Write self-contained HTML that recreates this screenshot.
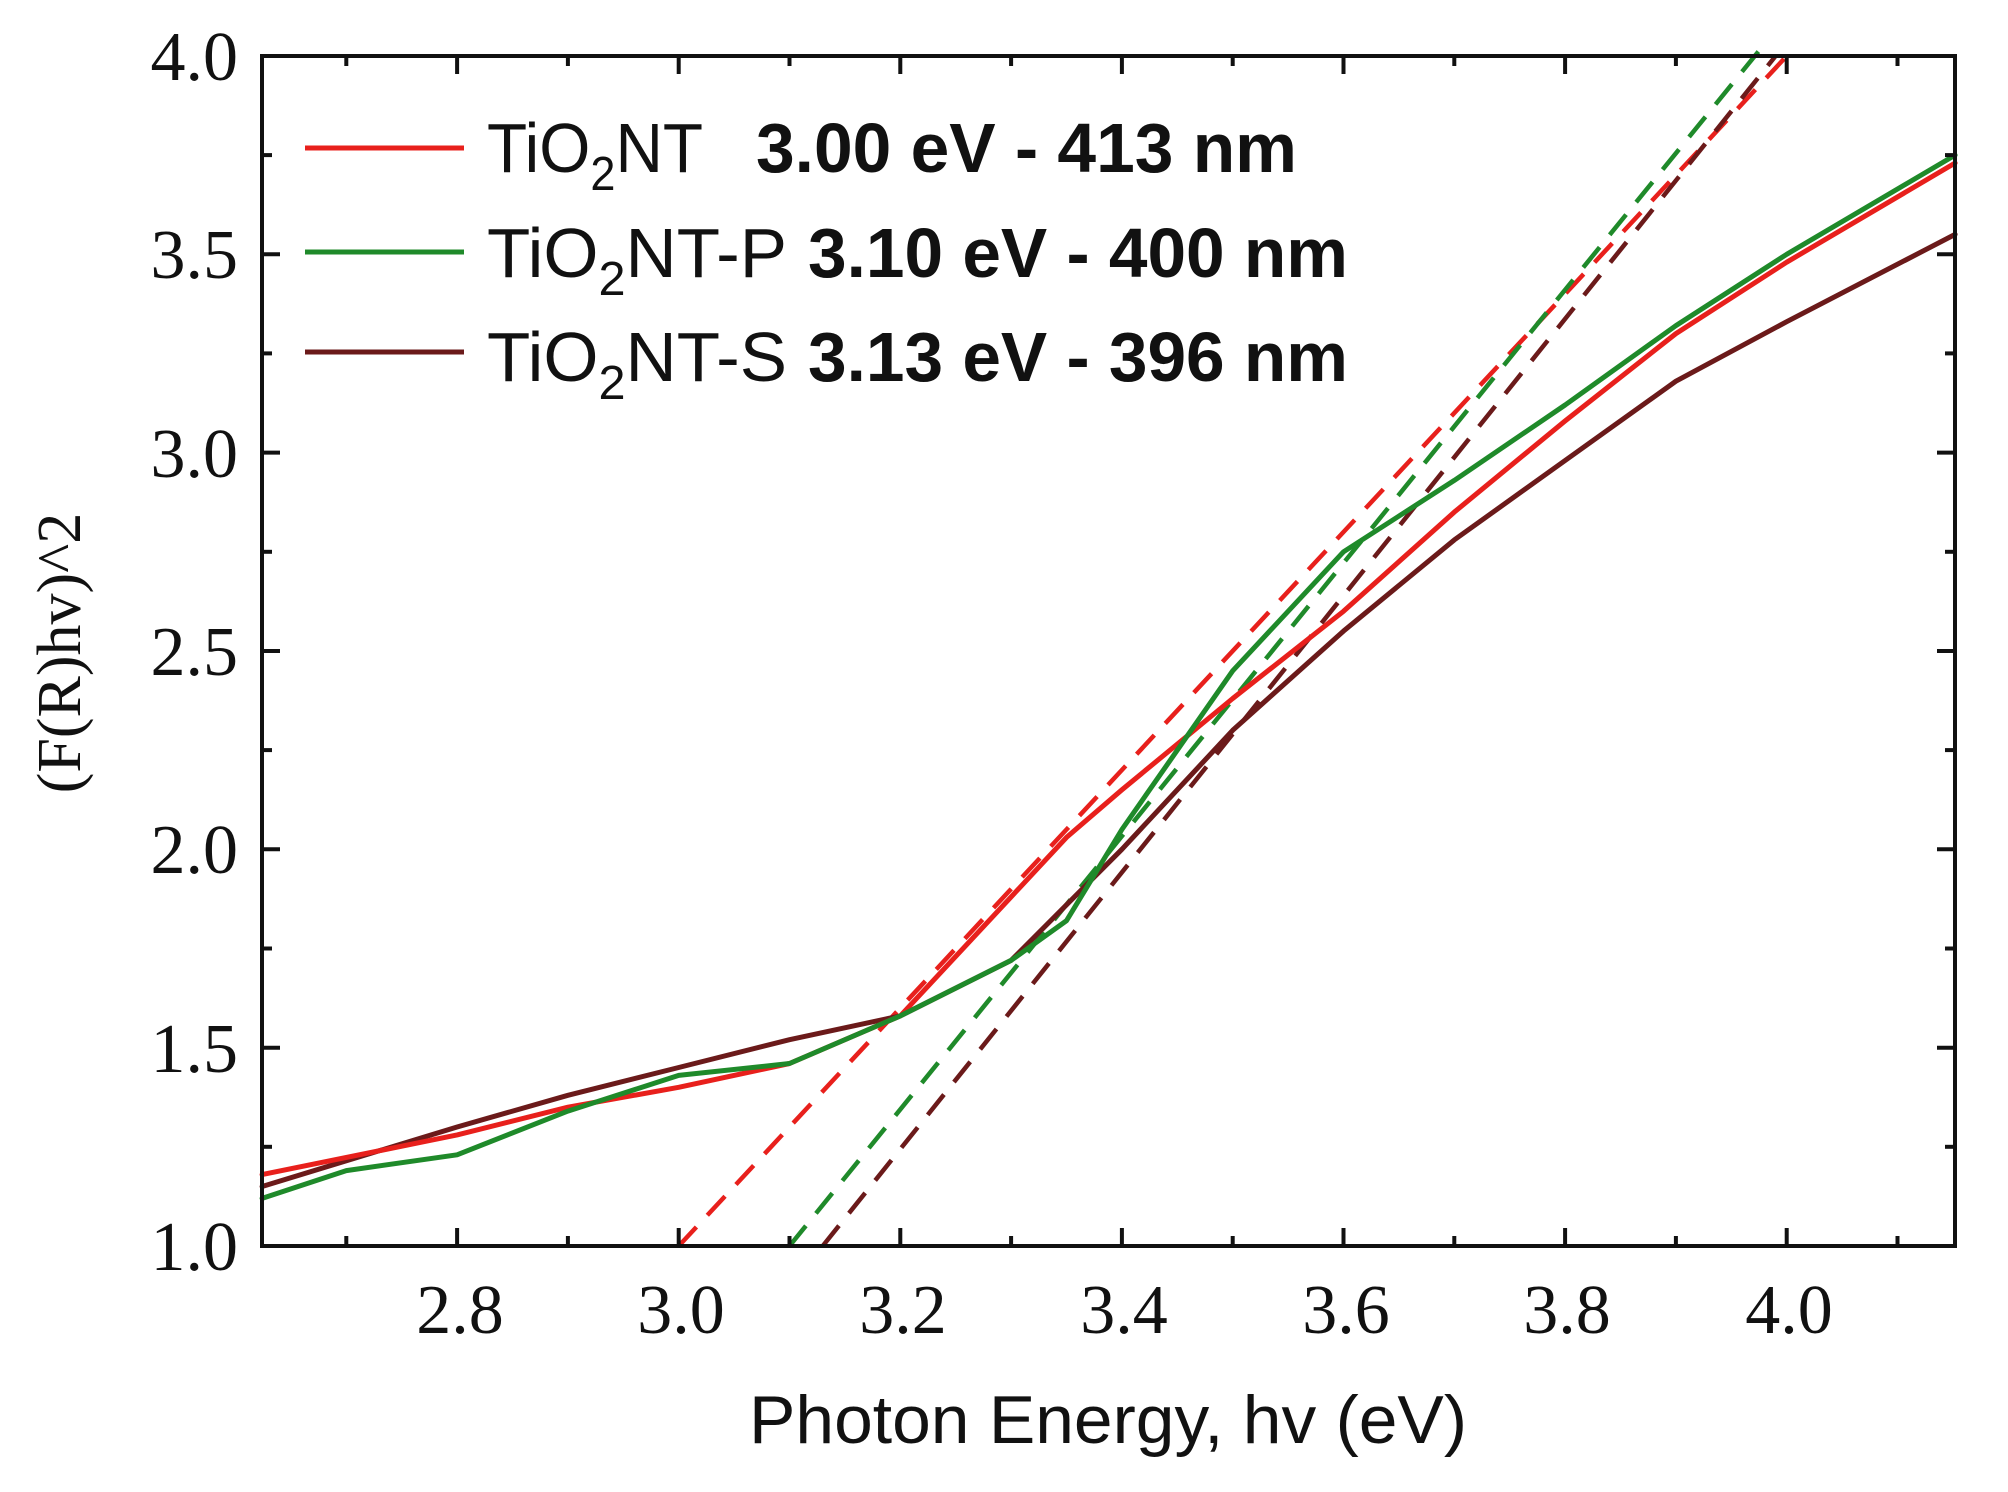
<!DOCTYPE html>
<html><head><meta charset="utf-8"><style>html,body{margin:0;padding:0;background:#fff}svg{display:block}</style></head>
<body>
<svg width="2008" height="1492" viewBox="0 0 2008 1492" xmlns="http://www.w3.org/2000/svg">
<rect width="2008" height="1492" fill="#fff"/>
<g fill="none" stroke-width="4.5" stroke-dasharray="26 16">
<line x1="678.7" y1="1246" x2="1786.7" y2="56" stroke="#e8201c"/>
<line x1="789.5" y1="1246" x2="1764.5" y2="44" stroke="#1f8a2a"/>
<line x1="822.7" y1="1246" x2="1775.6" y2="56" stroke="#6b1a1a"/>
</g>
<g fill="none" stroke-width="5" stroke-linejoin="round" stroke-linecap="round">
<polyline stroke="#6b1a1a" points="262.1,1186.5 457.1,1127 567.9,1095.3 678.7,1067.5 789.5,1039.7 900.3,1015.9 1011.1,960.4 1121.9,849.3 1232.7,730.3 1343.5,631.1 1454.3,539.9 1565.1,460.5 1675.9,381.2 1786.7,321.7 1955.1,234.4"/>
<polyline stroke="#e8201c" points="262.1,1174.6 457.1,1134.9 567.9,1107.2 678.7,1087.3 789.5,1063.5 900.3,1015.9 1011.1,896.9 1066.5,837.4 1121.9,789.8 1232.7,698.5 1343.5,611.3 1454.3,512.1 1565.1,420.9 1675.9,333.6 1786.7,262.2 1955.1,163"/>
<polyline stroke="#1f8a2a" points="262.1,1198.4 346.3,1170.6 457.1,1154.8 567.9,1111.1 678.7,1075.4 789.5,1063.5 900.3,1015.9 1011.1,960.4 1066.5,920.7 1121.9,829.5 1232.7,670.8 1343.5,551.8 1454.3,480.4 1565.1,405 1675.9,325.6 1786.7,254.3 1955.1,155.1"/>
</g>
<g stroke="#111" stroke-width="4">
<line x1="346.3" y1="1246" x2="346.3" y2="1236"/><line x1="457.1" y1="1246" x2="457.1" y2="1228"/><line x1="567.9" y1="1246" x2="567.9" y2="1236"/><line x1="678.7" y1="1246" x2="678.7" y2="1228"/><line x1="789.5" y1="1246" x2="789.5" y2="1236"/><line x1="900.3" y1="1246" x2="900.3" y2="1228"/><line x1="1011.1" y1="1246" x2="1011.1" y2="1236"/><line x1="1121.9" y1="1246" x2="1121.9" y2="1228"/><line x1="1232.7" y1="1246" x2="1232.7" y2="1236"/><line x1="1343.5" y1="1246" x2="1343.5" y2="1228"/><line x1="1454.3" y1="1246" x2="1454.3" y2="1236"/><line x1="1565.1" y1="1246" x2="1565.1" y2="1228"/><line x1="1675.9" y1="1246" x2="1675.9" y2="1236"/><line x1="1786.7" y1="1246" x2="1786.7" y2="1228"/><line x1="1897.5" y1="1246" x2="1897.5" y2="1236"/>
<line x1="346.3" y1="56" x2="346.3" y2="66"/><line x1="457.1" y1="56" x2="457.1" y2="74"/><line x1="567.9" y1="56" x2="567.9" y2="66"/><line x1="678.7" y1="56" x2="678.7" y2="74"/><line x1="789.5" y1="56" x2="789.5" y2="66"/><line x1="900.3" y1="56" x2="900.3" y2="74"/><line x1="1011.1" y1="56" x2="1011.1" y2="66"/><line x1="1121.9" y1="56" x2="1121.9" y2="74"/><line x1="1232.7" y1="56" x2="1232.7" y2="66"/><line x1="1343.5" y1="56" x2="1343.5" y2="74"/><line x1="1454.3" y1="56" x2="1454.3" y2="66"/><line x1="1565.1" y1="56" x2="1565.1" y2="74"/><line x1="1675.9" y1="56" x2="1675.9" y2="66"/><line x1="1786.7" y1="56" x2="1786.7" y2="74"/><line x1="1897.5" y1="56" x2="1897.5" y2="66"/>
<line x1="262" y1="1146.8" x2="272" y2="1146.8"/><line x1="262" y1="1047.7" x2="280" y2="1047.7"/><line x1="262" y1="948.5" x2="272" y2="948.5"/><line x1="262" y1="849.3" x2="280" y2="849.3"/><line x1="262" y1="750.1" x2="272" y2="750.1"/><line x1="262" y1="651" x2="280" y2="651"/><line x1="262" y1="551.8" x2="272" y2="551.8"/><line x1="262" y1="452.6" x2="280" y2="452.6"/><line x1="262" y1="353.4" x2="272" y2="353.4"/><line x1="262" y1="254.3" x2="280" y2="254.3"/><line x1="262" y1="155.1" x2="272" y2="155.1"/>
<line x1="1955" y1="1146.8" x2="1945" y2="1146.8"/><line x1="1955" y1="1047.7" x2="1937" y2="1047.7"/><line x1="1955" y1="948.5" x2="1945" y2="948.5"/><line x1="1955" y1="849.3" x2="1937" y2="849.3"/><line x1="1955" y1="750.1" x2="1945" y2="750.1"/><line x1="1955" y1="651" x2="1937" y2="651"/><line x1="1955" y1="551.8" x2="1945" y2="551.8"/><line x1="1955" y1="452.6" x2="1937" y2="452.6"/><line x1="1955" y1="353.4" x2="1945" y2="353.4"/><line x1="1955" y1="254.3" x2="1937" y2="254.3"/><line x1="1955" y1="155.1" x2="1945" y2="155.1"/>
</g>
<rect x="262" y="56" width="1693" height="1190" fill="none" stroke="#111" stroke-width="4"/>
<g font-family="Liberation Serif, serif" font-size="70" fill="#111" text-anchor="end">
<text x="238" y="1270">1.0</text><text x="238" y="1072">1.5</text><text x="238" y="873">2.0</text><text x="238" y="675">2.5</text><text x="238" y="477">3.0</text><text x="238" y="278">3.5</text><text x="238" y="80">4.0</text>
</g>
<g font-family="Liberation Serif, serif" font-size="70" fill="#111" text-anchor="middle">
<text x="460" y="1333">2.8</text><text x="681" y="1333">3.0</text><text x="903" y="1333">3.2</text><text x="1124" y="1333">3.4</text><text x="1346" y="1333">3.6</text><text x="1567" y="1333">3.8</text><text x="1789" y="1333">4.0</text>
</g>
<g font-family="Liberation Sans, sans-serif" font-size="70" fill="#111">
<line x1="305" y1="148" x2="464" y2="148" stroke="#e8201c" stroke-width="5"/>
<line x1="305" y1="252" x2="464" y2="252" stroke="#1f8a2a" stroke-width="5"/>
<line x1="305" y1="352" x2="464" y2="352" stroke="#6b1a1a" stroke-width="5"/>
<text x="487" y="172" textLength="216" lengthAdjust="spacingAndGlyphs">TiO<tspan font-size="48" dy="18">2</tspan><tspan dy="-18">NT</tspan></text>
<text x="756" y="172" font-weight="bold" textLength="541" lengthAdjust="spacingAndGlyphs">3.00 eV - 413 nm</text>
<text x="487" y="277" textLength="300" lengthAdjust="spacingAndGlyphs">TiO<tspan font-size="48" dy="18">2</tspan><tspan dy="-18">NT-P</tspan></text>
<text x="808" y="277" font-weight="bold" textLength="540" lengthAdjust="spacingAndGlyphs">3.10 eV - 400 nm</text>
<text x="487" y="381" textLength="300" lengthAdjust="spacingAndGlyphs">TiO<tspan font-size="48" dy="18">2</tspan><tspan dy="-18">NT-S</tspan></text>
<text x="808" y="381" font-weight="bold" textLength="540" lengthAdjust="spacingAndGlyphs">3.13 eV - 396 nm</text>
<text x="1108" y="1443" text-anchor="middle" font-size="68" textLength="718" lengthAdjust="spacingAndGlyphs">Photon Energy, hv (eV)</text>
<text transform="translate(80,653) rotate(-90)" text-anchor="middle" font-family="Liberation Serif, serif" font-size="62">(F(R)hv)^2</text>
</g>
</svg>
</body></html>
